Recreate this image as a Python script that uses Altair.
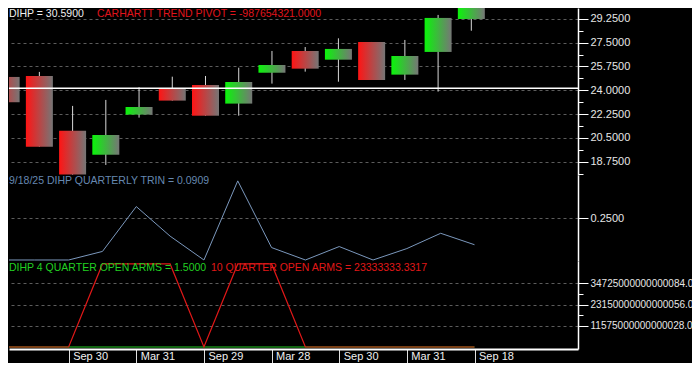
import altair as alt
import pandas as pd

# ---------------- data ----------------
idx = list(range(15))
opens  = [24.98, 25.05, 21.03, 19.26, 22.21, 24.10, 24.39, 23.02, 25.29, 26.89, 26.25, 27.55, 25.15, 26.82, 29.24]
closes = [23.12, 19.85, 17.80, 20.71, 22.77, 23.24, 22.13, 24.61, 25.86, 25.59, 27.04, 24.76, 26.52, 29.32, 30.45]
highs  = [25.37, 25.35, 22.85, 23.29, 24.22, 25.00, 25.05, 25.66, 26.89, 27.18, 27.82, 27.55, 27.70, 29.54, 30.51]
lows   = [23.12, 19.85, 17.80, 18.51, 21.99, 23.24, 22.13, 22.13, 24.49, 25.37, 24.63, 24.76, 24.76, 23.90, 28.38]
pivot_level = [24.14]

trin = [0.0, 0.0, 0.0, 0.051, 0.318, 0.142, 0.0, 0.471, 0.074, 0.0, 0.080, 0.0, 0.068, 0.159, 0.0909]

arms4 = [1.0, 1.0, 1.0, 1.5, 1.5, 1.5, 1.0, 1.5, 1.5, 1.0, 1.0, 1.0, 1.0, 1.5, 1.5]
arms10 = [0, 0, 0, 4.53e16, 4.53e16, 4.53e16, 0, 4.53e16, 4.53e16, 0, 0, 0, 0, 0, 0]

x_tick_idx = [2, 4, 6, 8, 10, 12, 14]
x_tick_labels = ["Sep 30", "Mar 31", "Sep 29", "Mar 28", "Sep 30", "Mar 31", "Sep 18"]

price_major = [18.75, 20.5, 22.25, 24.0, 25.75, 27.5, 29.25]
price_minor = [17.875, 19.625, 21.375, 23.125, 24.875, 26.625, 28.375]
trin_major = [0.25]
arms_major = [1.1575e16, 2.315e16, 3.4725e16]
arms_major_labels = ["11575000000000028.0", "23150000000000056.0", "34725000000000084.0"]
arms_minor = [1.73625e16, 2.89375e16]

# ---------------- helpers ----------------
FONT = "Liberation Sans"
W = 569
XDOM = [0.2365, 17.06]
TFS = 10.5


def is_major(vals, rel=1e-6):
    parts = [f"abs(datum.value - {v!r}) <= {abs(v) * rel!r}" for v in vals]
    return "(" + " || ".join(parts) + ")"


def yaxis(major, minor, labels=None, fs=11):
    test = is_major(major)
    if labels is None:
        lexpr = f"{test} ? format(datum.value, '.4f') : ''"
    else:
        lexpr = "''"
        for v, lab in zip(major, labels):
            lexpr = f"abs(datum.value - {v!r}) <= {abs(v) * 1e-6!r} ? '{lab}' : ({lexpr})"
    return alt.Axis(
        orient="right",
        values=sorted(major + minor),
        labelExpr=lexpr,
        title=None,
        domainColor="white",
        domainWidth=1.5,
        tickColor="white",
        tickSize={"condition": {"test": test, "value": 10}, "value": 5},
        labelColor="#e6e6e6",
        labelFont=FONT,
        labelFontSize=fs,
        labelPadding=2,
        grid=True,
        gridColor="#5c5c5c",
        gridDash=[3, 3],
        gridOpacity={"condition": {"test": test, "value": 1}, "value": 0},
        labelOverlap=False,
        labelBound=False,
    )


def xenc(axis=None):
    return alt.X("i:Q", scale=alt.Scale(domain=XDOM, nice=False, zero=False), axis=axis)


def label(text, color, x, y):
    return alt.Chart(pd.DataFrame({"t": [text]})).mark_text(
        align="left", baseline="middle", font=FONT, fontSize=TFS, color=color
    ).encode(x=alt.value(x), y=alt.value(y), text="t:N")


# ---------------- panel 1: candles ----------------
df = pd.DataFrame({"i": idx, "open": opens, "close": closes, "high": highs, "low": lows})
pscale = alt.Scale(domain=[17.77, 30.05], nice=False, zero=False)
pax = yaxis(price_major, price_minor)

base = alt.Chart(df)
wicks = base.mark_rule(color="#d8d8d8", strokeWidth=1, clip=True).encode(
    x=xenc(),
    y=alt.Y("low:Q", scale=pscale, axis=pax),
    y2="high:Q",
)

red_grad = alt.LinearGradient(
    gradient="linear", x1=0, x2=1, y1=0, y2=0,
    stops=[alt.GradientStop(offset=0, color="#ff1414"), alt.GradientStop(offset=1, color="#767676")],
)
green_grad = alt.LinearGradient(
    gradient="linear", x1=0, x2=1, y1=0, y2=0,
    stops=[alt.GradientStop(offset=0, color="#0af50a"), alt.GradientStop(offset=1, color="#767676")],
)

down = base.transform_filter("datum.close < datum.open").mark_bar(size=27, color=red_grad, clip=True).encode(
    x=xenc(), y=alt.Y("open:Q", scale=pscale, axis=pax), y2="close:Q"
)
up = base.transform_filter("datum.close >= datum.open").mark_bar(size=27, color=green_grad, clip=True).encode(
    x=xenc(), y=alt.Y("open:Q", scale=pscale, axis=pax), y2="close:Q"
)
pivot = alt.Chart(pd.DataFrame({"p": pivot_level})).mark_rule(color="white", strokeWidth=1.5).encode(
    y=alt.Y("p:Q", scale=pscale, axis=pax)
)

panel1 = alt.layer(
    wicks, down, up, pivot,
    label("DIHP = 30.5900", "#f0f0f0", 0, 6),
    label("CARHARTT TREND PIVOT = -987654321.0000", "#e0141c", 88, 6),
).properties(width=W, height=167)

# ---------------- panel 2: TRIN ----------------
dft = pd.DataFrame({"i": idx, "trin": trin})
tscale = alt.Scale(domain=[-0.006, 0.506], nice=False, zero=False)
trin_line = alt.Chart(dft).mark_line(color="#7b98bd", strokeWidth=1, clip=True).encode(
    x=xenc(), y=alt.Y("trin:Q", scale=tscale, axis=yaxis(trin_major, []))
)
panel2 = alt.layer(
    trin_line,
    label("9/18/25  DIHP QUARTERLY TRIN = 0.0909", "#6688b0", 0, 6),
).properties(width=W, height=86)

# ---------------- panel 3: open arms ----------------
dfa = pd.DataFrame({"i": idx, "a4": arms4, "a10": arms10})
ascale = alt.Scale(domain=[-1.09e15, 4.69e16], nice=False, zero=False)
aax = yaxis(arms_major, arms_minor, arms_major_labels, fs=10)
xaxis = alt.Axis(
    values=x_tick_idx,
    labelExpr="{" + ",".join(f"'{v}': '{l}'" for v, l in zip(x_tick_idx, x_tick_labels)) + "}[datum.value]",
    title=None,
    orient="bottom",
    domainColor="white",
    domainWidth=2,
    tickColor="#e0e0e0",
    tickSize=22,
    labelAlign="left",
    labelBaseline="top",
    labelPadding=-21,
    labelOffset=4,
    labelColor="#f0f0f0",
    labelFont=FONT,
    labelFontSize=11,
    labelFlush=False,
    labelOverlap=False,
    labelBound=False,
    grid=False,
)
g_line = alt.Chart(dfa).mark_line(color="#22c822", strokeWidth=1.2, clip=True).encode(
    x=xenc(xaxis), y=alt.Y("a4:Q", scale=ascale, axis=aax)
)
r_line = alt.Chart(dfa).mark_line(color="#e01818", strokeWidth=1.2, clip=True).encode(
    x=xenc(xaxis), y=alt.Y("a10:Q", scale=ascale, axis=aax)
)
panel3 = alt.layer(
    g_line, r_line,
    label("DIHP 4 QUARTER OPEN ARMS = 1.5000", "#22d022", 0, 7),
    label("10 QUARTER OPEN ARMS = 23333333.3317", "#e01818", 202, 7),
).properties(width=W, height=88)

chart = alt.vconcat(panel1, panel2, panel3, spacing=0, bounds="flush").properties(
    padding={"left": 0, "top": 0, "right": -1, "bottom": -9}
).configure(background="black").configure_view(stroke=None)

chart.save("out.html", embed_options={"renderer": "svg", "actions": False})
